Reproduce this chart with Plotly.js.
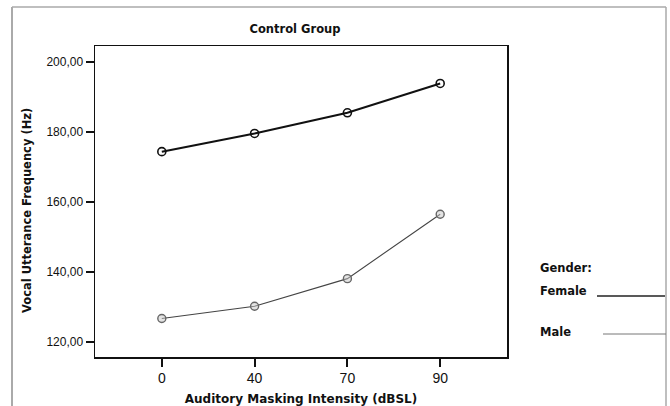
<!DOCTYPE html>
<html>
<head>
<meta charset="utf-8">
<script src="https://cdn.plot.ly/plotly-3.0.1.min.js"></script>
<style>html,body{margin:0;padding:0;background:#fff;}#chart{width:670px;height:406px;}</style>
</head>
<body>
<div id="chart"></div>
<script>
const categories = ["0", "40", "70", "90"];
const femaleValues = [174.4, 179.6, 185.5, 193.9];
const maleValues = [126.7, 130.2, 138.1, 156.5];
const yTickValues = [120, 140, 160, 180, 200];

const W = 670, H = 406;
const L = 95, R = 507, T = 46, B = 357;
const px = x => (x - L) / (R - L);
const py = y => (B - y) / (B - T);

const traces = [
  {
    x: categories, y: femaleValues, type: 'scatter', mode: 'lines+markers', name: 'Female',
    line: {color: '#111', width: 2},
    marker: {symbol: 'circle', size: 8, color: 'rgba(255,255,255,0)', line: {color: '#111', width: 1.6}},
    showlegend: false, cliponaxis: false
  },
  {
    x: categories, y: maleValues, type: 'scatter', mode: 'lines+markers', name: 'Male',
    line: {color: '#444', width: 1.1},
    marker: {symbol: 'circle', size: 8, color: 'rgba(200,200,200,0.5)', line: {color: '#666', width: 1.4}},
    showlegend: false, cliponaxis: false
  }
];

const axisFont = {family: 'DejaVu Sans, Verdana, sans-serif', size: 12, color: '#111', weight: 'bold'};
const labelFont = {family: 'DejaVu Sans, Verdana, sans-serif', size: 11.5, color: '#111', weight: 'bold'};

const layout = {
  width: W, height: H,
  margin: {l: L, r: W - R, t: T, b: H - B, pad: 0},
  paper_bgcolor: '#fff', plot_bgcolor: '#fff',
  separators: ',.',
  showlegend: false,
  xaxis: {
    type: 'category', range: [-0.72, 3.72],
    showgrid: false, zeroline: false,
    showline: true, linecolor: '#111', linewidth: 1.5, mirror: true,
    ticks: 'outside', ticklen: 8, tickwidth: 2, tickcolor: '#111',
    tickfont: {family: 'Liberation Sans Narrow, Liberation Sans, Arial, sans-serif', size: 14, color: '#111'},
    title: {text: 'Auditory Masking Intensity (dBSL)', font: axisFont, standoff: 10}
  },
  yaxis: {
    range: [115.7, 204.6],
    tickvals: yTickValues, tickformat: '.2f',
    showgrid: false, zeroline: false,
    showline: true, linecolor: '#111', linewidth: 1.5, mirror: true,
    ticks: 'outside', ticklen: 8, tickwidth: 2, tickcolor: '#111',
    tickfont: {family: 'Liberation Sans, Arial, sans-serif', size: 12, color: '#111'}
  },
  title: {
    text: 'Control Group',
    font: labelFont,
    x: px(295), xref: 'paper', xanchor: 'center',
    y: 1 - 29 / H, yref: 'container', yanchor: 'middle'
  },
  shapes: [
    {type: 'line', xref: 'paper', yref: 'paper', x0: px(12), x1: px(12), y0: py(7), y1: py(420), line: {color: '#aaa', width: 2}},
    {type: 'line', xref: 'paper', yref: 'paper', x0: px(12), x1: px(666), y0: py(7), y1: py(7), line: {color: '#aaa', width: 1.5}},
    {type: 'line', xref: 'paper', yref: 'paper', x0: px(666), x1: px(666), y0: py(7), y1: py(420), line: {color: '#aaa', width: 1.5}},
    {type: 'line', xref: 'paper', yref: 'paper', x0: px(597), x1: px(665), y0: py(296), y1: py(296), line: {color: '#222', width: 1.5}},
    {type: 'line', xref: 'paper', yref: 'paper', x0: px(603), x1: px(666), y0: py(334), y1: py(334), line: {color: '#777', width: 1}}
  ],
  annotations: [
    {text: 'Vocal Utterance Frequency (Hz)', xref: 'paper', yref: 'paper', x: px(27), y: py(211), xanchor: 'center', yanchor: 'middle',
     textangle: -90, showarrow: false, font: {family: 'DejaVu Sans, Verdana, sans-serif', size: 11.5, color: '#111', weight: 'bold'}},
    {text: 'Gender:', xref: 'paper', yref: 'paper', x: px(538), y: py(268), xanchor: 'left', yanchor: 'middle', showarrow: false, font: labelFont},
    {text: 'Female', xref: 'paper', yref: 'paper', x: px(538), y: py(291), xanchor: 'left', yanchor: 'middle', showarrow: false, font: labelFont},
    {text: 'Male', xref: 'paper', yref: 'paper', x: px(538), y: py(332), xanchor: 'left', yanchor: 'middle', showarrow: false, font: labelFont}
  ]
};

Plotly.newPlot('chart', traces, layout, {displayModeBar: false, staticPlot: true});
</script>
</body>
</html>
